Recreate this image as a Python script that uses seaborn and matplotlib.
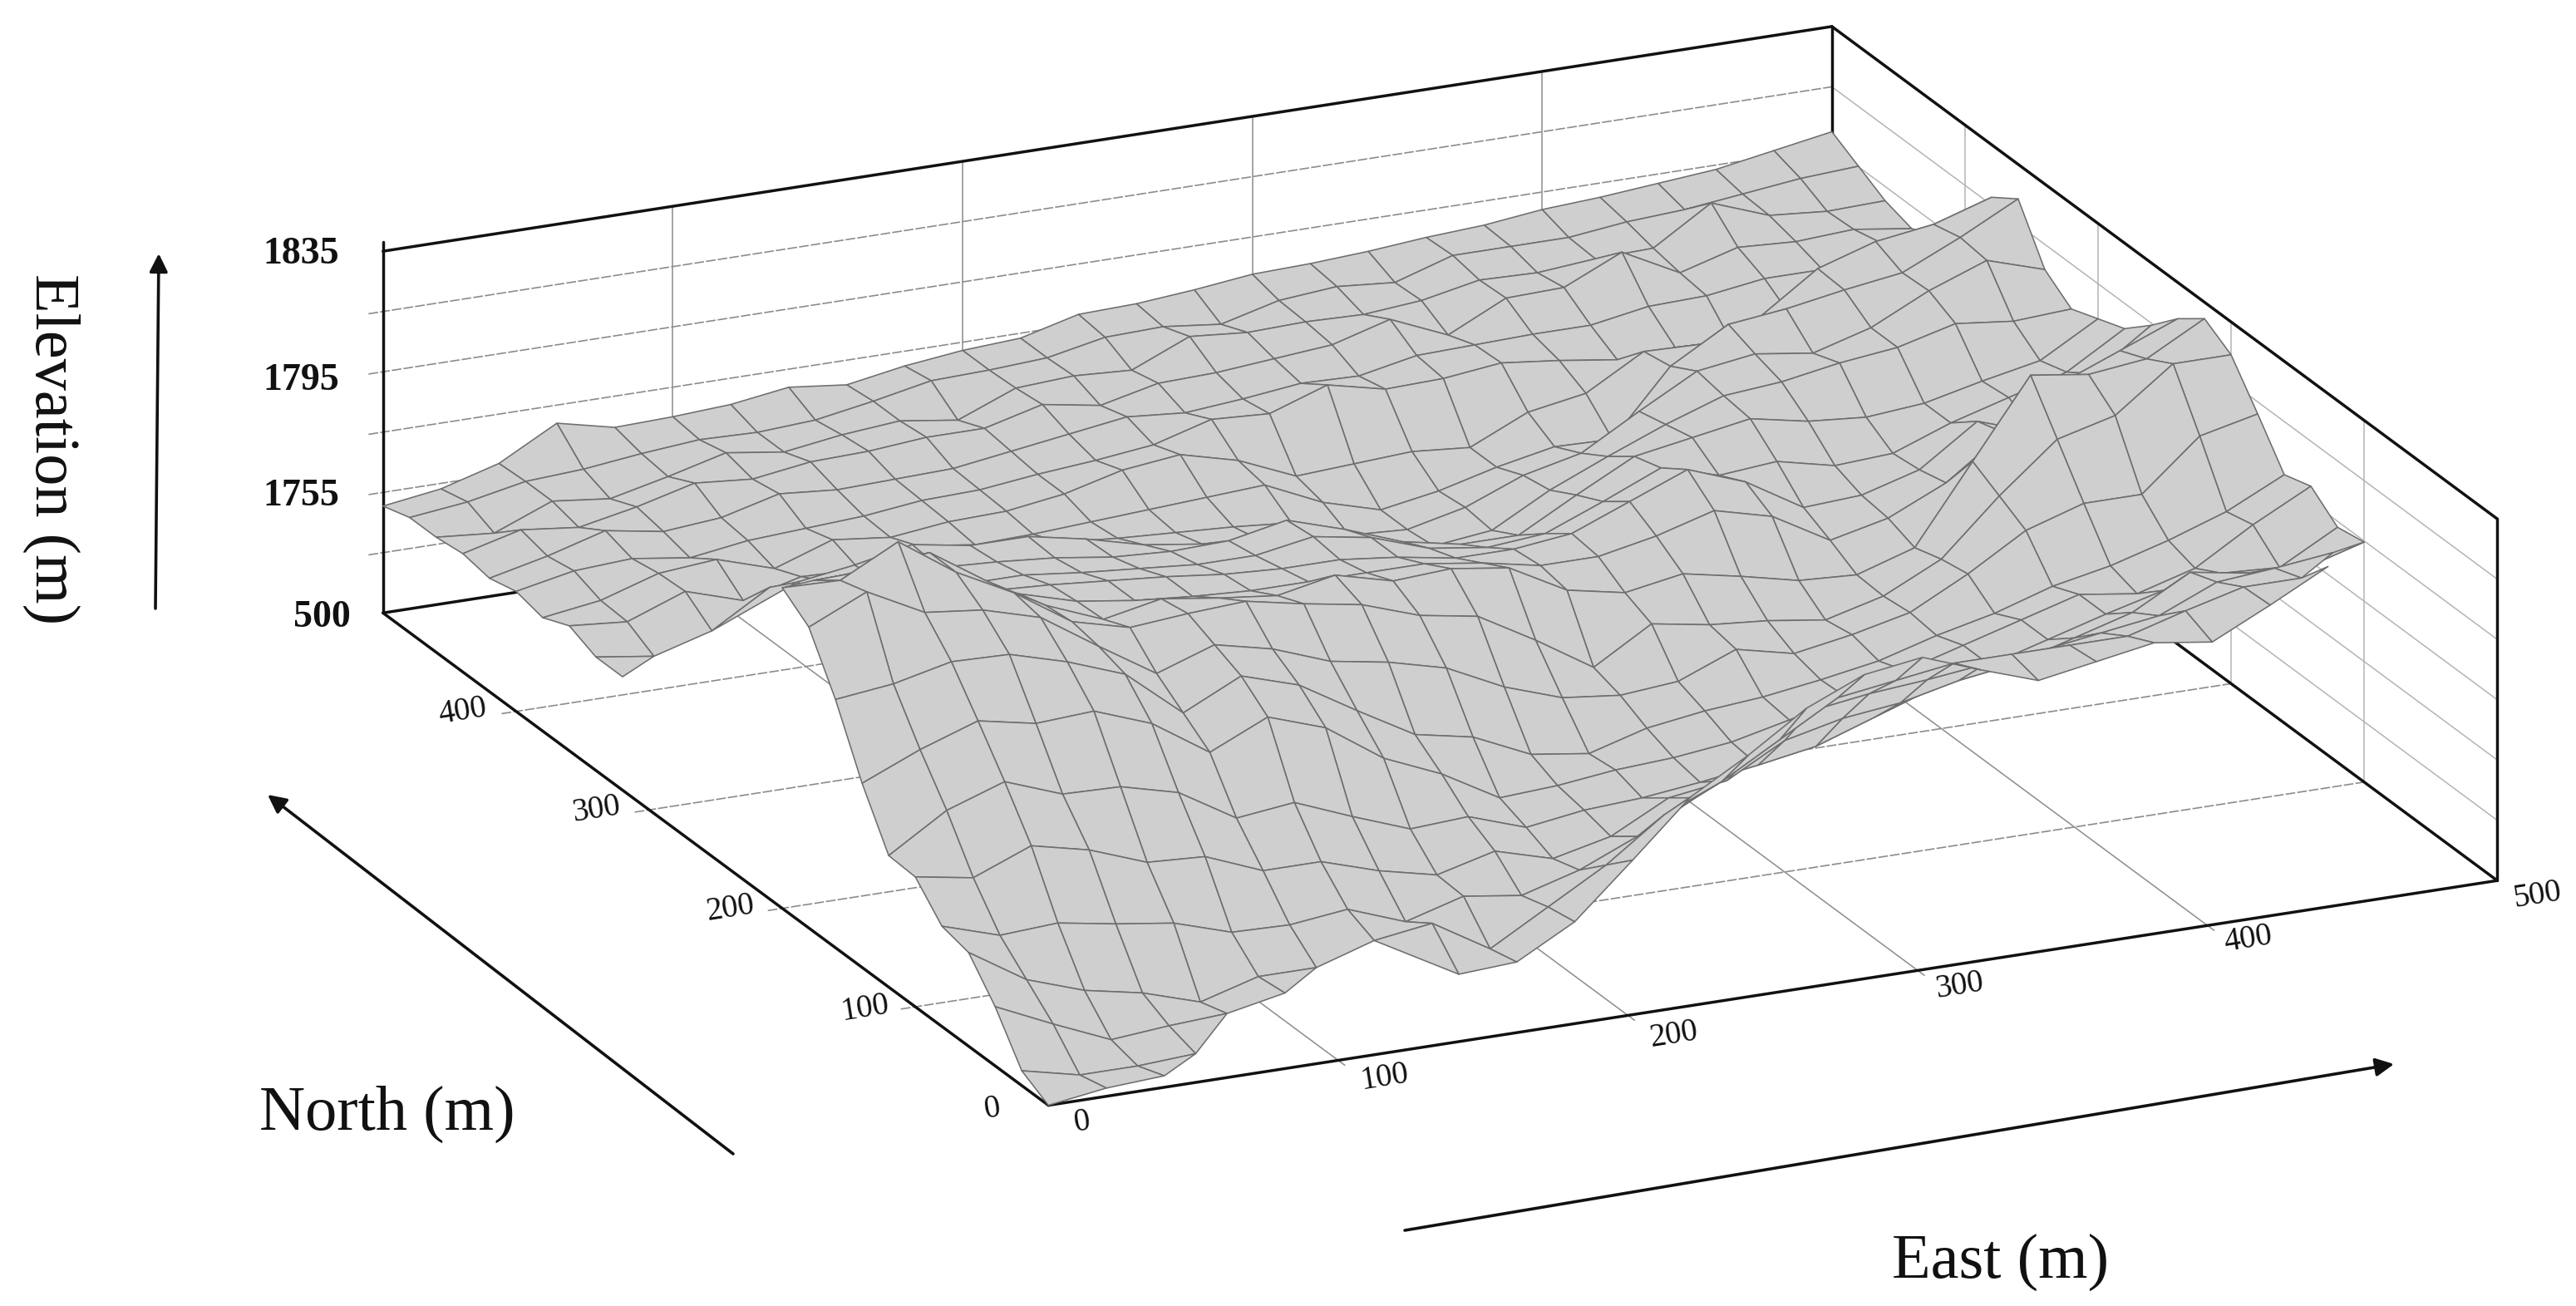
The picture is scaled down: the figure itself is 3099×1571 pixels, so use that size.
import numpy as np
import matplotlib
matplotlib.use("Agg")
import matplotlib.pyplot as plt
import seaborn as sns
from mpl_toolkits.mplot3d.art3d import Poly3DCollection

# height of the ground above the floor of the box
# (220 units = the whole box = 120 m), one list per row of the mesh, back to front
N = np.nan
row00 = [65,70,80,99,91,92,94,99,95,101,105,107,116,117,120,124,125,127,130,132,136,138,141,144,150,156]
row01 = [70,74,81,83,87,90,89,91,97,104,105,107,114,115,111,120,123,120,131,131,131,135,137,141,145,147]
row02 = [70,67,81,77,85,94,89,94,97,92,106,108,106,121,118,119,118,121,128,127,130,131,153,140,137,138]
row03 = [72,81,77,84,93,90,95,96,99,99,108,102,110,111,114,117,127,112,129,130,146,128,138,136,138,133]
row04 = [69,77,87,81,84,93,90,91,92,97,102,107,104,107,111,110,117,118,119,119,125,126,131,131,142,140]
row05 = [73,80,82,77,82,84,86,90,91,95,98,102,112,110,122,114,115,119,115,110,112,108,120,130,136,150]
row06 = [69,74,85,88,77,89,85,89,90,95,104,108,99,84,86,88,85,101,107,127,126,137,161,172,177,188]
row07 = [76,73,86,75,84,83,92,87,88,90,92,94,96,80,70,76,85,92,91,130,150,154,160,165,181,199]
row08 = [69,64,74,95,93,95,98,100,95,92,90,88,85,72,70,78,92,100,120,139,144,139,149,166,179,168]
row09 = [69,N,N,110,115,122,116,116,109,100,95,92,88,78,72,76,95,110,124,136,139,145,149,158,154,156]
row10 = [N,N,N,118,118,120,118,115,110,108,109,116,105,92,85,85,104,122,128,134,127,124,127,135,142,162]
row11 = [N,N,N,125,122,122,122,118,115,112,112,118,112,100,95,98,112,127,117,120,112,114,127,137,147,168]
row12 = [N,N,N,140,135,130,128,125,122,118,116,116,112,106,106,110,124,138,125,104,106,116,140,128,158,182]
row13 = [N,N,168,172,155,140,130,125,122,120,120,120,120,115,108,108,115,125,116,96,104,120,145,170,184,198]
row14 = [N,182,183,188,165,145,131,138,133,129,136,127,129,124,105,98,104,97,89,87,98,145,192,187,191,210]
row15 = [195,194,212,188,170,147,138,141,143,136,130,118,112,92,70,91,85,82,77,86,103,136,165,174,200,200]
row16 = [183,199,181,177,167,144,122,134,126,113,107,98,81,69,65,68,82,74,80,88,106,127,138,138,168,176]
row17 = [151,155,163,162,152,139,110,127,116,95,75,68,52,47,57,62,65,70,76,86,94,105,112,122,134,151]
row18 = [112,127,139,132,134,121,98,114,102,78,63,43,45,49,51,55,63,71,82,92,102,112,107,117,138,156]
row19 = [80,102,114,101,100,91,70,74,60,47,49,37,42,44,48,53,59,71,83,92,102,112,121,126,124,143]
row20 = [79,73,87,79,66,64,50,50,39,31,40,30,38,56,61,80,88,92,100,105,115,125,144,138,136,146]
row21 = [61,50,52,46,41,30,29,33,20,30,25,35,50,68,90,110,115,118,122,125,130,135,150,153,157,N]
row22 = [57,35,23,16,5,15,15,26,31,10,30,50,75,90,110,130,135,140,140,140,140,150,159,159,N,N]
row23 = [36,20,5,8,10,17,N,N,12,14,33,65,98,118,141,156,161,148,136,142,148,143,160,178,N,N]
row24 = [9,1,1,3,N,N,N,N,N,N,N,N,N,N,N,N,N,N,N,N,N,N,N,N,N,N]
row25 = [0,5,7,N,N,N,N,N,N,N,N,N,N,N,N,N,N,N,N,N,N,N,N,N,N,N]

relief = np.array([row00, row01, row02, row03, row04, row05, row06, row07, row08,
                   row09, row10, row11, row12, row13, row14, row15, row16, row17,
                   row18, row19, row20, row21, row22, row23, row24, row25], dtype=float)

east = np.arange(0, 501, 20)
north = np.arange(500, -1, -20)
base = 1715
top = 1835
elevation = base + relief * (top - base) / 220

east_ticks = [0, 100, 200, 300, 400, 500]
north_ticks = [0, 100, 200, 300, 400, 500]
elev_lines = [1715, 1735, 1755, 1775, 1795, 1815, 1835]

# tick labels: (text, x, y) in pixels of the finished picture
east_labels = [("0", 1302, 1350), ("100", 1666, 1296), ("200", 2014, 1245), ("300", 2357, 1186), ("400", 2705, 1130), ("500", 3053, 1077)]
north_labels = [("0", 1194, 1334), ("100", 1041, 1213), ("200", 879, 1093), ("300", 717, 974), ("400", 557, 856)]
elev_labels = [("1835", 362, 306), ("1795", 362, 458), ("1755", 362, 597), ("500", 387, 743)]

sns.set_theme(style="white")
plt.rcParams['font.family'] = ['Liberation Serif', 'DejaVu Serif']

fig = plt.figure(figsize=(30.99, 15.71), dpi=100, facecolor="white")
ax = fig.add_axes([0.116, -0.3073, 0.8628, 1.702], projection="3d", computed_zorder=False)
ax.set_proj_type("ortho")
ax.view_init(elev=19.8, azim=-114.6)
ax.set_box_aspect((970, 973, 234))
ax.set_xlim(0, 500)
ax.set_ylim(0, 500)
ax.set_zlim(base, top)
ax.set_axis_off()

grey = "#8c8c8c"
pale = "#b4b4b4"
stub = 5

# floor and walls
for e in east_ticks[1:-1]:
    ax.plot([e, e], [-stub, 500], [base, base], color=grey, lw=1.1, zorder=1)
    ax.plot([e, e], [500, 500], [base, top], color=grey, lw=1.1, zorder=1)
for n in north_ticks[1:-1]:
    ax.plot([-stub, 500], [n, n], [base, base], color=grey, lw=1.2, ls=(0, (7, 1.5)), zorder=1)
    ax.plot([500, 500], [n, n], [base, top], color=pale, lw=1.1, zorder=1)
for z in elev_lines[1:-1]:
    ax.plot([-stub, 500], [500, 500], [z, z], color=grey, lw=1.2, ls=(0, (7, 1.5)), zorder=1)
    ax.plot([500, 500], [0, 500], [z, z], color=pale, lw=1.1, zorder=1)

# box edges
edges = [([0, 500], [0, 0], [base, base]), ([0, 0], [0, 500], [base, base]),
         ([0, 500], [500, 500], [base, base]), ([500, 500], [0, 500], [base, base]),
         ([0, 500], [500, 500], [top, top]), ([500, 500], [0, 500], [top, top]),
         ([0, 0], [500, 500], [base, top + 3]), ([500, 500], [0, 0], [base, top]),
         ([500, 500], [500, 500], [base, top])]
for xs, ys, zs in edges:
    ax.plot(xs, ys, zs, color="#111111", lw=2.5, zorder=2, solid_capstyle="round")

# ground mesh; a cell with one missing corner is closed as a triangle
polys = []
for i in range(len(north) - 1):
    for j in range(len(east) - 1):
        corners = [(i, j), (i, j + 1), (i + 1, j + 1), (i + 1, j)]
        cell = [(east[b], north[a], elevation[a, b]) for a, b in corners if np.isfinite(elevation[a, b])]
        if len(cell) >= 3:
            polys.append(cell)
mesh = Poly3DCollection(polys, facecolor="#cfcfcf", edgecolor="#6e6e6e", linewidths=1.15, zsort="average", zorder=3)
ax.add_collection3d(mesh)

# texts and arrows sit on a flat layer measured in picture pixels
ov = fig.add_axes([0, 0, 1, 1], facecolor="none")
ov.set_xlim(0, 3099)
ov.set_ylim(1571, 0)
ov.axis("off")

for txt, x, y in east_labels + north_labels:
    ov.text(x, y, txt, fontsize=28, rotation=9, ha="center", va="center", color="#111111")
for txt, x, y in elev_labels:
    ov.text(x, y, txt, fontsize=33, fontweight="bold", ha="center", va="center", color="#111111")

ov.text(62, 540, "Elevation (m)", fontsize=55, rotation=270, ha="center", va="center", color="#111111")
ov.text(466, 1340, "North (m)", fontsize=55, ha="center", va="center", color="#111111")
ov.text(2407, 1518, "East (m)", fontsize=55, ha="center", va="center", color="#111111")

arrow = dict(arrowstyle="-|>,head_length=1.1,head_width=0.55", color="#111111", lw=2.6, shrinkA=0, shrinkB=0)
ov.annotate("", xy=(191, 305), xytext=(187, 732), arrowprops=arrow)
ov.annotate("", xy=(322, 956), xytext=(882, 1388), arrowprops=arrow)
ov.annotate("", xy=(2880, 1280), xytext=(1690, 1480), arrowprops=arrow)

fig.savefig("out.png", dpi=100)
